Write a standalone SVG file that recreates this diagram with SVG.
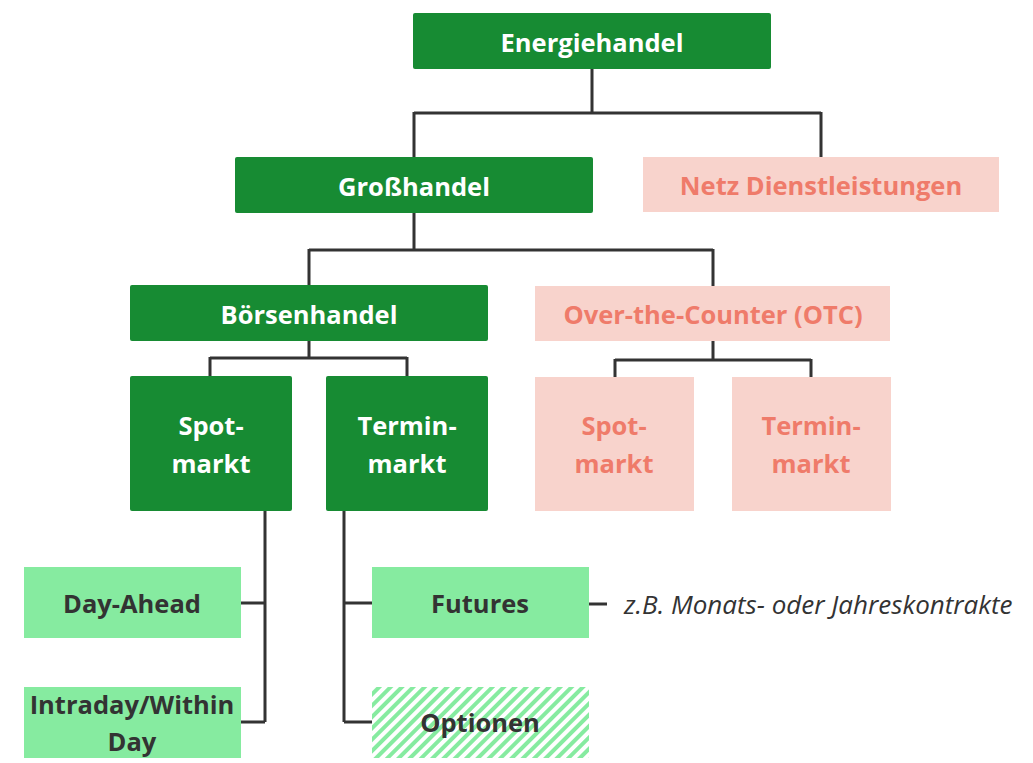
<svg xmlns="http://www.w3.org/2000/svg" width="1033" height="763" viewBox="0 0 1033 763">
<defs>
<pattern id="hatch" patternUnits="userSpaceOnUse" width="8" height="8" patternTransform="rotate(45)">
<rect width="8" height="8" fill="#ffffff"/>
<rect x="0" y="0" width="4" height="8" fill="#86eba0"/>
</pattern>
<style>
.dg{fill:#178b33}
.pk{fill:#f8d3cc}
.lg{fill:#86eba0}
text{font-family:"Open Sans","Liberation Sans",sans-serif;font-weight:bold;font-size:25.5px;text-anchor:middle;dominant-baseline:central}
.w{fill:#ffffff}
.r{fill:#ef7b6a}
.k{fill:#333333}
.ann{font-weight:normal;font-style:italic;text-anchor:start;font-size:26px;fill:#333333}
.c{fill:none;stroke:#333333;stroke-width:3}
</style>
</defs>
<rect width="1033" height="763" fill="#ffffff"/>
<g id="connectors">
<path class="c" d="M592 69V113M414 113H821M414 112V157M821 112V157"/>
<path class="c" d="M414 213V250M309 250H713M309 249V285M713 249V286"/>
<path class="c" d="M309 341V358M210 358H407M210 357V376M407 357V376"/>
<path class="c" d="M713 341V360M615 360H811M615 359V377M811 359V377"/>
<path class="c" d="M265 511V722M241 603H265M241 722H265"/>
<path class="c" d="M344 511V722M344 603H372M344 722H372"/>
<path class="c" d="M589 604H607"/>
</g>
<g id="energiehandel"><rect class="dg" x="413" y="13" width="358" height="56" rx="2"/><text class="w" x="592" y="42">Energiehandel</text></g>
<g id="grosshandel"><rect class="dg" x="235" y="157" width="358" height="56" rx="2"/><text class="w" x="414" y="186">Großhandel</text></g>
<g id="netz"><rect class="pk" x="643" y="157" width="356" height="55"/><text class="r" x="821" y="185">Netz Dienstleistungen</text></g>
<g id="boersenhandel"><rect class="dg" x="130" y="285" width="358" height="56" rx="2"/><text class="w" x="309" y="314">Börsenhandel</text></g>
<g id="otc"><rect class="pk" x="535" y="286" width="355" height="55"/><text class="r" x="713" y="314">Over-the-Counter (OTC)</text></g>
<g id="spot-boerse"><rect class="dg" x="130" y="376" width="162" height="135" rx="2"/><text class="w" x="211" y="425">Spot-</text><text class="w" x="211" y="463">markt</text></g>
<g id="termin-boerse"><rect class="dg" x="326" y="376" width="162" height="135" rx="2"/><text class="w" x="407" y="425">Termin-</text><text class="w" x="407" y="463">markt</text></g>
<g id="spot-otc"><rect class="pk" x="535" y="377" width="159" height="134"/><text class="r" x="614" y="425">Spot-</text><text class="r" x="614" y="463">markt</text></g>
<g id="termin-otc"><rect class="pk" x="732" y="377" width="159" height="134"/><text class="r" x="811" y="425">Termin-</text><text class="r" x="811" y="463">markt</text></g>
<g id="day-ahead"><rect class="lg" x="24" y="567" width="217" height="71"/><text class="k" x="132" y="603">Day-Ahead</text></g>
<g id="intraday"><rect class="lg" x="24" y="687" width="217" height="71"/><text class="k" x="132" y="704">Intraday/Within</text><text class="k" x="132" y="741">Day</text></g>
<g id="futures"><rect class="lg" x="372" y="567" width="217" height="71"/><text class="k" x="480" y="603">Futures</text></g>
<g id="optionen"><rect fill="url(#hatch)" x="372" y="687" width="217" height="71"/><text class="k" x="480" y="722">Optionen</text></g>
<g id="annotation"><text class="ann" x="624" y="604">z.B. Monats- oder Jahreskontrakte</text></g>
</svg>
